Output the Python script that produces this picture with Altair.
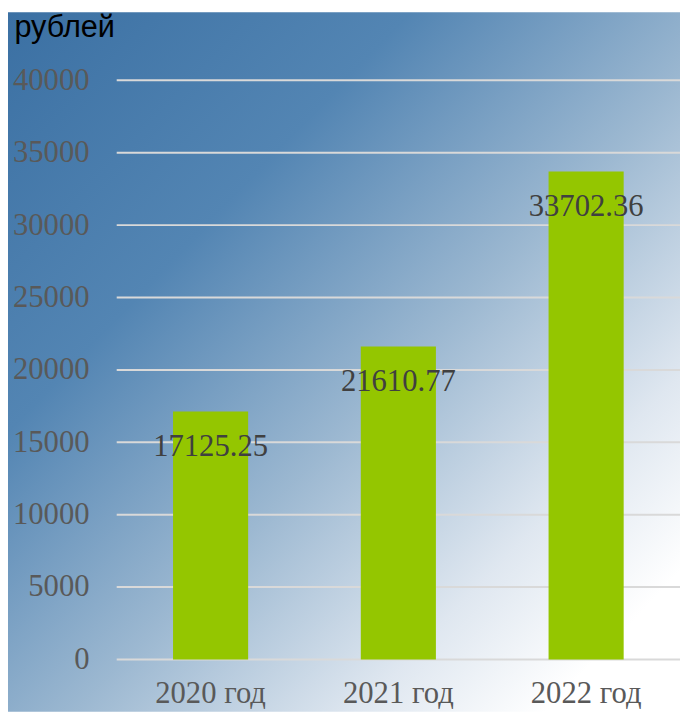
import altair as alt
import pandas as pd

# ---- data ----
years = ["2020 год", "2021 год", "2022 год"]
values = [17125.25, 21610.77, 33702.36]
tick_values = [0, 5000, 10000, 15000, 20000, 25000, 30000, 35000, 40000]
unit_label = "рублей"

bars_df = pd.DataFrame({"year": years, "value": values})
grid_df = pd.DataFrame({"tick": tick_values})
bg_df = pd.DataFrame({"k": [0]})

W, H = 570, 586
PAD_L, PAD_T, PAD_B = 110, 69, 53

x_scale = alt.Scale(domain=years, paddingInner=0.6, paddingOuter=0.3)
y_scale = alt.Scale(domain=[0, 40000], nice=False, zero=True)

serif = "Liberation Serif"

gradient = alt.LinearGradient(
    gradient="linear",
    x1=0, y1=0, x2=1, y2=1,
    stops=[
        alt.GradientStop(color="#3b70a3", offset=0),
        alt.GradientStop(color="#5385b3", offset=0.3),
        alt.GradientStop(color="#9cb8d1", offset=0.55),
        alt.GradientStop(color="#dfe7f0", offset=0.76),
        alt.GradientStop(color="#ffffff", offset=0.9),
        alt.GradientStop(color="#ffffff", offset=1),
    ],
)

y_axis = alt.Axis(
    values=tick_values, format="d", grid=False, domain=False, ticks=False,
    labelFont=serif, labelFontSize=31, labelColor="#595959", labelPadding=28,
    title=unit_label, titleAngle=0, titleAlign="left", titleBaseline="alphabetic",
    titleX=-104, titleY=-44, titleFont="Liberation Sans", titleFontSize=31,
    titleFontWeight="normal", titleColor="#000000", zindex=1,
)
x_axis = alt.Axis(
    title=None, labelAngle=0, domain=False, ticks=False, grid=False,
    labelFont=serif, labelFontSize=31, labelColor="#595959",
    labelPadding=44, labelBaseline="alphabetic", zindex=1,
)

bg = alt.Chart(bg_df).mark_rect(color=gradient).encode(
    x=alt.value(-PAD_L),
    x2=alt.value(W),
    y=alt.value(-PAD_T),
    y2=alt.value(H + PAD_B),
)

grid = alt.Chart(grid_df).mark_rule(color="#d9d9d9", strokeWidth=2).encode(
    y=alt.Y("tick:Q", scale=y_scale, axis=y_axis),
    x=alt.value(0),
    x2=alt.value(W),
)

bars = alt.Chart(bars_df).mark_bar(color="#94c600").encode(
    x=alt.X("year:N", scale=x_scale, sort=years, axis=x_axis),
    y=alt.Y("value:Q", scale=y_scale, axis=y_axis),
)

labels = alt.Chart(bars_df).mark_text(
    font=serif, fontSize=31, color="#404040", baseline="alphabetic", dy=45
).encode(
    x=alt.X("year:N", scale=x_scale, sort=years),
    y=alt.Y("value:Q", scale=y_scale),
    text=alt.Text("value:Q", format=".2f"),
)

chart = (
    alt.layer(bg, grid, bars, labels)
    .properties(
        width=W,
        height=H,
        padding={"left": PAD_L, "top": PAD_T, "right": 0, "bottom": PAD_B},
        autosize=alt.AutoSizeParams(type="none"),
    )
    .configure_view(stroke=None)
)

chart.save("out.html", embed_options={"renderer": "svg", "actions": False})
